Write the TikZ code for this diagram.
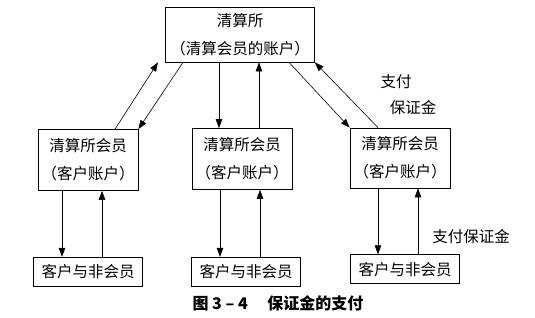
\documentclass[tikz,border=0pt]{standalone}
\usepackage{fontspec}
\setmainfont{Noto Sans CJK SC}
\usetikzlibrary{arrows.meta,positioning}

\tikzset{
    acct/.style={draw,line width=0.7pt,align=center,inner sep=0pt,
        font=\fontsize{15.5}{28}\selectfont},
    flow/.style={-{Triangle[length=9pt,width=6.5pt]},line width=0.6pt},
}

\begin{document}
\begin{tikzpicture}[x=1pt,y=-1pt]
    \useasboundingbox (0,0) rectangle (535,317);
    \node[acct,minimum width=149pt,minimum height=55pt] (house) at (240,34.5) {清算所\\（清算会员的账户）};
    \node[acct,minimum width=100pt,minimum height=61pt] (memA) at (88,160) {清算所会员\\（客户账户）};
    \node[acct,minimum width=100pt,minimum height=61pt] (memB) at (242,159) {清算所会员\\（客户账户）};
    \node[acct,minimum width=100pt,minimum height=60pt] (memC) at (400,158) {清算所会员\\（客户账户）};
    \node[acct,minimum width=109pt,minimum height=29pt,below=66pt of memA] (cliA) {客户与非会员};
    \node[acct,minimum width=109pt,minimum height=29pt,below=67pt of memB,xshift=4pt] (cliB) {客户与非会员};
    \node[acct,minimum width=109pt,minimum height=29pt,below=66pt of memC,xshift=5pt] (cliC) {客户与非会员};
    % labels on the right side
    \node[font=\fontsize{15.5}{18}\selectfont] (payA) at (396,82) {支付};
    \node[font=\fontsize{15.5}{18}\selectfont] (payB) at (413,108) {保证金};
    \node[font=\fontsize{15.5}{18}\selectfont] (payC) at (471,237) {支付保证金};
    \node[font=\fontsize{16}{18}\selectfont\bfseries] (cap) at (278,303) {图\ 3\ --\ 4\quad\ 保证金的支付};
    % clearing house <-> members
    \draw[flow] ([xshift=27pt]memA.north) -- ([xshift=-82pt]house.south);
    \draw[flow] ([xshift=-57pt]house.south) -- (memA.north east);
    \draw[flow] ([xshift=-21pt]house.south) -- ([xshift=-21pt]house.south |- memB.north);
    \draw[flow] ([xshift=17pt]memB.north) -- ([xshift=17pt]memB.north |- house.south);
    \draw[flow] ([xshift=49pt]house.south) -- (memC.north west);
    \draw[flow] ([xshift=-22pt]memC.north) -- (house.south east);
    % members <-> clients
    \draw[flow] ([xshift=-26pt]memA.south) -- ([xshift=-26pt]memA.south |- cliA.north);
    \draw[flow] ([xshift=14pt]memA.south |- cliA.north) -- ([xshift=14pt]memA.south);
    \draw[flow] ([xshift=-22pt]memB.south) -- ([xshift=-22pt]memB.south |- cliB.north);
    \draw[flow] ([xshift=18pt]memB.south |- cliB.north) -- ([xshift=18pt]memB.south);
    \draw[flow] ([xshift=-22pt]memC.south) -- ([xshift=-22pt]memC.south |- cliC.north);
    \draw[flow] ([xshift=18pt]memC.south |- cliC.north) -- ([xshift=18pt]memC.south);
\end{tikzpicture}
\end{document}
